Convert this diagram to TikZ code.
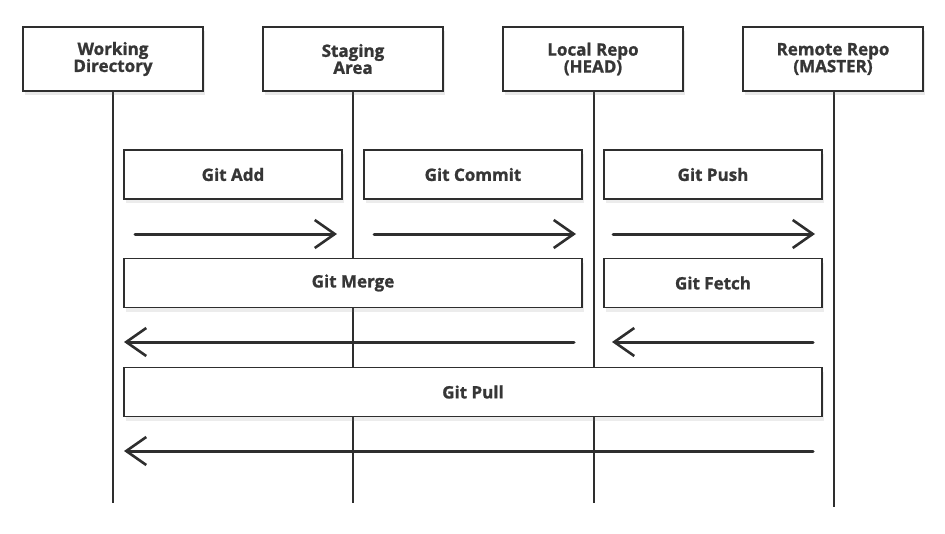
\documentclass[tikz,border=0pt]{standalone}
\usepackage{fontspec}
\setmainfont{Open Sans}[BoldFeatures={FakeBold=1.2}]
\usetikzlibrary{arrows.meta,shadows}
\definecolor{FlowInk}{HTML}{363636}
\definecolor{FlowLine}{HTML}{2E2E2E}
\definecolor{FlowPaper}{HTML}{FFFFFF}
\tikzset{
  every node/.style={font=\bfseries\fontsize{17}{17}\selectfont, text=FlowInk},
  actor/.style={draw=FlowLine, line width=1.4pt, fill=FlowPaper, align=center,
    minimum width=180pt, minimum height=64pt, inner sep=0pt,
    drop shadow={opacity=0.18, shadow xshift=2pt, shadow yshift=-4pt}},
  command/.style={draw=FlowLine, line width=1.2pt, fill=FlowPaper, inner sep=0pt,
    minimum height=49pt,
    drop shadow={opacity=0.15, shadow xshift=2pt, shadow yshift=-4pt}},
  lifeline/.style={draw=FlowLine, line width=1.2pt},
  flow/.style={-{Straight Barb[length=20pt,width=28pt,line width=2.6pt]},
    draw=FlowLine, line width=3pt, line cap=round},
}
\begin{document}
\begin{tikzpicture}[x=1pt,y=-1pt]
  \useasboundingbox (0,0) rectangle (945,533);
  % Lifelines first, so the command boxes paint over them
  \coordinate (wd-end) at (113,503);
  \coordinate (sa-end) at (353,503);
  \coordinate (lr-end) at (594,503);
  \coordinate (rr-end) at (834,507);
  \draw[lifeline] (113,90) -- (wd-end);
  \draw[lifeline] (353,90) -- (sa-end);
  \draw[lifeline] (594,90) -- (lr-end);
  \draw[lifeline] (834,90) -- (rr-end);
  % Actors
  \node[actor] (wd) at (113,59) {Working\\Directory};
  \node[actor] (sa) at (353,59) {Staging\\Area};
  \node[actor] (lr) at (593,59) {Local Repo\\(HEAD)};
  \node[actor] (rr) at (833,59) {Remote Repo\\(MASTER)};
  % Commands
  \node[command, minimum width=218pt] (add) at (233,174.5) {Git Add};
  \node[command, minimum width=218pt] (commit) at (473,174.5) {Git Commit};
  \node[command, minimum width=218pt] (push) at (713,174.5) {Git Push};
  \node[command, minimum width=458pt] (merge) at (353,283) {Git Merge};
  \node[command, minimum width=218pt] (fetch) at (713,283) {Git Fetch};
  \node[command, minimum width=698pt] (pull) at (473,392) {Git Pull};
  % Arrows under each command
  \coordinate (add-a) at (135,234);    \coordinate (add-b) at (337,234);
  \coordinate (commit-a) at (374,234); \coordinate (commit-b) at (576,234);
  \coordinate (push-a) at (613,234);   \coordinate (push-b) at (815,234);
  \coordinate (merge-a) at (574,342);  \coordinate (merge-b) at (124,342);
  \coordinate (fetch-a) at (813,342);  \coordinate (fetch-b) at (612,342);
  \coordinate (pull-a) at (813,451);   \coordinate (pull-b) at (124,451);
  \foreach \c in {add,commit,push,merge,fetch,pull}
    \draw[flow] (\c-a) -- (\c-b);
\end{tikzpicture}
\end{document}
